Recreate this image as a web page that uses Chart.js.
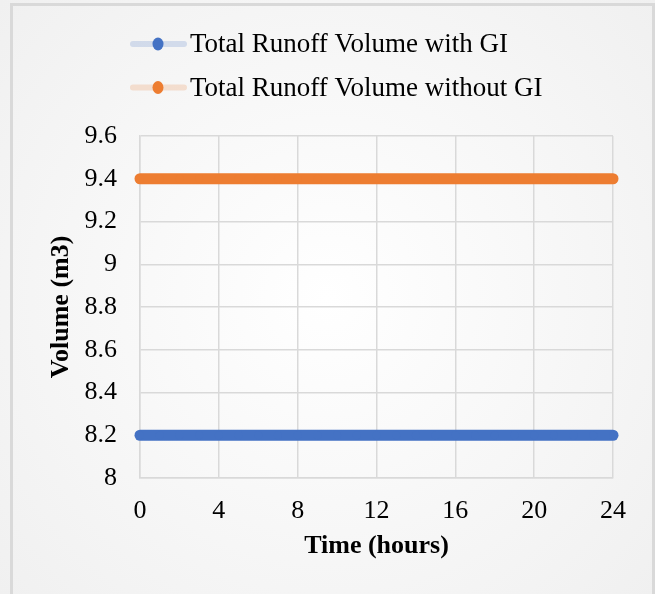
<!DOCTYPE html>
<html>
<head>
<meta charset="utf-8">
<script src="https://cdn.jsdelivr.net/npm/chart.js@4"></script>
<style>
  html, body { margin: 0; padding: 0; background: #fff; }
  #wrap { width: 655px; height: 594px; position: relative; }
</style>
</head>
<body>
<div id="wrap"><canvas id="runoffChart" width="655" height="594"></canvas></div>
<script>
// time steps (hours)
const hours = [0, 1, 2, 3, 4, 5, 6, 7, 8, 9, 10, 11, 12, 13, 14, 15, 16, 17, 18, 19, 20, 21, 22, 23, 24];
const withGI = [8.2, 8.2, 8.2, 8.2, 8.2, 8.2, 8.2, 8.2, 8.2, 8.2, 8.2, 8.2, 8.2, 8.2, 8.2, 8.2, 8.2, 8.2, 8.2, 8.2, 8.2, 8.2, 8.2, 8.2, 8.2];
const withoutGI = [9.4, 9.4, 9.4, 9.4, 9.4, 9.4, 9.4, 9.4, 9.4, 9.4, 9.4, 9.4, 9.4, 9.4, 9.4, 9.4, 9.4, 9.4, 9.4, 9.4, 9.4, 9.4, 9.4, 9.4, 9.4];
const seriesNames = ['Total Runoff Volume with GI', 'Total Runoff Volume without GI'];
const seriesColors = ['#4472c4', '#ed7d31'];
const seriesFaded = ['rgba(68,114,196,0.2)', 'rgba(237,125,49,0.2)'];

const FONT = '"Liberation Serif", "Times New Roman", serif';

const toPoints = vals => vals.map((v, i) => ({ x: hours[i], y: v }));

// excel-ish panel: soft radial fill + grey frame
const panelBg = {
  id: 'panelBg',
  beforeDraw(chart) {
    const ctx = chart.ctx;
    const w = chart.width, h = chart.height;
    ctx.save();
    const g = ctx.createRadialGradient(w / 2, h / 2, 0, w / 2, h / 2, Math.max(w, h) * 0.72);
    g.addColorStop(0, '#ffffff');
    g.addColorStop(1, '#efefef');
    ctx.fillStyle = g;
    ctx.fillRect(0, 0, w, h);
    ctx.strokeStyle = '#d9d9d9';
    ctx.lineWidth = 3;
    ctx.strokeRect(11.5, 4.5, w - 13, h + 10);
    ctx.restore();
  }
};

// legend drawn like excel: faded line sample with solid marker
const excelLegend = {
  id: 'excelLegend',
  afterDraw(chart) {
    const ctx = chart.ctx;
    ctx.save();
    chart.data.datasets.forEach((ds, i) => {
      const y = 44 + i * 43.5;
      ctx.strokeStyle = seriesFaded[i];
      ctx.lineWidth = 6;
      ctx.lineCap = 'round';
      ctx.beginPath();
      ctx.moveTo(133, y);
      ctx.lineTo(184, y);
      ctx.stroke();
      ctx.fillStyle = seriesColors[i];
      ctx.beginPath();
      ctx.ellipse(158, y, 5.5, 6.5, 0, 0, Math.PI * 2);
      ctx.fill();
      ctx.fillStyle = '#000';
      ctx.font = '27px ' + FONT;
      ctx.textBaseline = 'middle';
      ctx.textAlign = 'left';
      ctx.fillText(ds.label, 190, y + 1);
    });
    ctx.restore();
  }
};

new Chart(document.getElementById('runoffChart'), {
  type: 'line',
  data: {
    datasets: [
      {
        label: seriesNames[0],
        data: toPoints(withGI),
        borderColor: seriesColors[0],
        backgroundColor: seriesColors[0],
        borderWidth: 11,
        borderCapStyle: 'round',
        pointRadius: 4,
        pointBorderWidth: 0,
        tension: 0,
        clip: false
      },
      {
        label: seriesNames[1],
        data: toPoints(withoutGI),
        borderColor: seriesColors[1],
        backgroundColor: seriesColors[1],
        borderWidth: 11,
        borderCapStyle: 'round',
        pointRadius: 4,
        pointBorderWidth: 0,
        tension: 0,
        clip: false
      }
    ]
  },
  options: {
    responsive: false,
    animation: false,
    layout: { padding: { left: 42, top: 136, right: 42, bottom: 32 } },
    plugins: {
      legend: { display: false },
      tooltip: { enabled: false }
    },
    scales: {
      x: {
        type: 'linear',
        min: 0,
        max: 24,
        ticks: { stepSize: 4, color: '#000', font: { family: FONT, size: 26 }, padding: 18 },
        grid: { color: '#d9d9d9', lineWidth: 1.5, drawTicks: false },
        border: { color: '#d9d9d9', width: 1.5 },
        title: { display: true, text: 'Time (hours)', color: '#000', font: { family: FONT, size: 26, weight: 'bold' }, padding: { top: 0, bottom: 0 } },
        afterFit(scale) { scale.height = 84; }
      },
      y: {
        min: 8,
        max: 9.6,
        ticks: { stepSize: 0.2, color: '#000', font: { family: FONT, size: 26 }, padding: 23,
          callback: v => Math.round(v * 10) / 10 },
        grid: { color: '#d9d9d9', lineWidth: 1.5, drawTicks: false },
        border: { color: '#d9d9d9', width: 1.5 },
        title: { display: true, text: 'Volume (m3)', color: '#000', font: { family: FONT, size: 26, weight: 'bold' }, padding: { top: 4, bottom: 0 } },
        afterFit(scale) { scale.width = 98; }
      }
    }
  },
  plugins: [panelBg, excelLegend]
});
</script>
</body>
</html>
